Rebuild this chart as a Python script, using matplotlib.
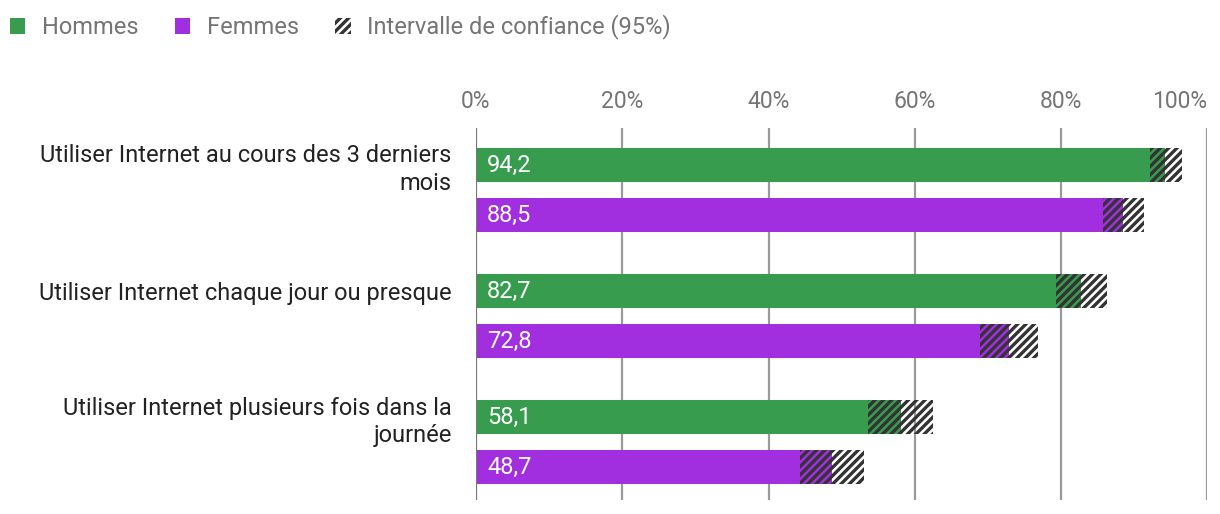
import matplotlib
matplotlib.use("Agg")
import matplotlib.pyplot as plt
from matplotlib.patches import Patch

plt.rcParams['font.family'] = ['Roboto', 'DejaVu Sans']
plt.rcParams['hatch.linewidth'] = 2.4

# ---- data ----
categories = [
    "Utiliser Internet au cours des 3 derniers\nmois",
    "Utiliser Internet chaque jour ou presque",
    "Utiliser Internet plusieurs fois dans la\njournée",
]
hommes = [94.2, 82.7, 58.1]
hommes_low = [92.1, 79.3, 53.6]
hommes_high = [96.5, 86.2, 62.5]
femmes = [88.5, 72.8, 48.7]
femmes_low = [85.7, 68.9, 44.3]
femmes_high = [91.3, 76.8, 53.0]
series_names = ["Hommes", "Femmes", "Intervalle de confiance (95%)"]
x_ticks = [0, 20, 40, 60, 80, 100]
x_ticklabels = ["0%", "20%", "40%", "60%", "80%", "100%"]

# ---- style ----
GREEN = "#389c4f"
PURPLE = "#a12fdf"
HATCH_C = "#333333"
GRAY_TXT = "#757575"
DARK_TXT = "#222222"

W, H = 1220, 514
fig = plt.figure(figsize=(W / 100, H / 100), dpi=100)
left_px, right_px, top_px, bot_px = 476, 1207.5, 128, 500
ax = fig.add_axes([left_px / W, 1 - bot_px / H, (right_px - left_px) / W, (bot_px - top_px) / H])

unit = 126.0  # px per group
bar_h = 34 / unit
off = 50 / unit
ax.set_xlim(0, 100)
ax.set_ylim((bot_px - 165) / unit, (top_px - 165) / unit)

for i in range(len(categories)):
    for val, lo, hi, col, yc in [
        (hommes[i], hommes_low[i], hommes_high[i], GREEN, i),
        (femmes[i], femmes_low[i], femmes_high[i], PURPLE, i + off),
    ]:
        ax.barh(yc, val, height=bar_h, color=col, zorder=2, linewidth=0)
        ax.barh(yc, hi - lo, left=lo, height=bar_h, facecolor="none",
                edgecolor=HATCH_C, hatch="////", linewidth=0, zorder=3)
        ax.annotate(f"{val:.1f}".replace(".", ","), xy=(0, yc), xytext=(8, 0),
                    textcoords="offset points", ha="left", va="center",
                    color="white", fontsize=17, zorder=4)

# gridlines
for t in x_ticks:
    ax.axvline(t, color="#777777" if t == 0 else "#9a9a9a",
               lw=1.6, zorder=1 if t else 5)

ax.set_xticks(x_ticks)
ax.set_xticklabels(x_ticklabels)
ax.xaxis.tick_top()
ax.tick_params(axis="x", length=0, pad=11, labelsize=16.5, labelcolor=GRAY_TXT)
ax.get_xticklabels()[-1].set_ha("right")
ax.get_xticklabels()[-1].set_x(100)

ax.set_yticks(range(len(categories)))
ax.set_yticklabels(categories, ha="right", ma="right")
ax.tick_params(axis="y", length=0, pad=17.5, labelsize=17, labelcolor=DARK_TXT)
for lab in ax.get_yticklabels():
    lab.set_linespacing(1.25)
for s in ax.spines.values():
    s.set_visible(False)

handles = [
    Patch(facecolor=GREEN, linewidth=0),
    Patch(facecolor=PURPLE, linewidth=0),
    Patch(facecolor="white", edgecolor=HATCH_C, hatch="////", linewidth=0),
]
leg = fig.legend(handles, series_names, loc="center left",
                 bbox_to_anchor=(10 / W, 1 - 27 / H), ncol=3, frameon=False,
                 fontsize=17, handlelength=0.65, handleheight=0.65,
                 handletextpad=0.7, columnspacing=1.55, borderpad=0,
                 borderaxespad=0)
for t in leg.get_texts():
    t.set_color(GRAY_TXT)

fig.savefig("out.png", dpi=100)
